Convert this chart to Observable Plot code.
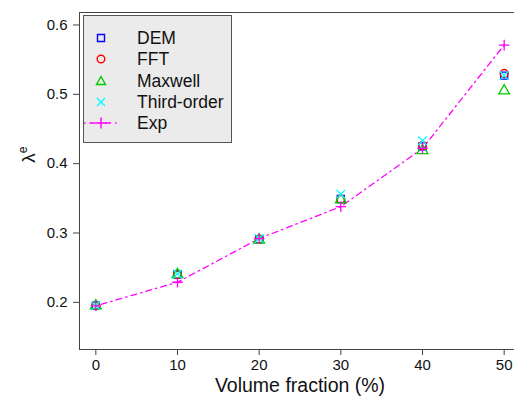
<!DOCTYPE html>
<html><head><meta charset="utf-8">
<script src="https://cdn.jsdelivr.net/npm/d3@7"></script>
<script src="https://cdn.jsdelivr.net/npm/@observablehq/plot@0.6"></script>
<style>
html,body{margin:0;padding:0;background:#fff;overflow:hidden}
#wrap{position:relative;width:514px;height:396px;overflow:hidden;font-family:"Liberation Sans",Arial,sans-serif}
#wrap svg.plot{max-width:none!important}
#legend{position:absolute;left:83px;top:15px;width:149px;height:128px;background:#ebebeb;border:1px solid #555;box-sizing:border-box}
#legend .row{position:absolute;left:0;height:20px;width:148px}
#legend .row svg{position:absolute;left:0;top:0}
#legend .row span{position:absolute;left:53px;top:1px;font-size:17.5px;color:#111;line-height:18px}
#ylab{position:absolute;left:20px;top:143px;font-size:19px;transform:rotate(-90deg);transform-origin:center;color:#111}
#ylab sup{font-size:12px}
</style></head>
<body><div id="wrap"></div>
<script>
const fractions = [0, 10, 20, 30, 40, 50];
const dem      = [0.195, 0.240, 0.291, 0.349, 0.425, 0.527];
const fft      = [0.195, 0.240, 0.291, 0.349, 0.426, 0.530];
const maxwell  = [0.195, 0.240, 0.290, 0.348, 0.419, 0.505];
const third    = [0.195, 0.241, 0.292, 0.356, 0.433, 0.527];
const expData  = [0.195, 0.229, 0.292, 0.338, 0.422, 0.571];
const yTicks = [0.2, 0.3, 0.4, 0.5, 0.6];
const xTicks = [0, 10, 20, 30, 40, 50];

const series = [
  {name: "DEM", values: dem, symbol: "square", color: "#0000ff"},
  {name: "FFT", values: fft, symbol: "circle", color: "#ff0000"},
  {name: "Maxwell", values: maxwell, symbol: "triangle", color: "#00cd00"},
  {name: "Third-order", values: third, symbol: "times", color: "#00ffff"},
  {name: "Exp", values: expData, symbol: "plus", color: "#ff00ff"}
];
const rows = series.flatMap(s => fractions.map((f, i) => ({series: s.name, x: f, y: s.values[i], symbol: s.symbol, color: s.color})));
const expRows = rows.filter(d => d.series === "Exp");

const chart = Plot.plot({
  width: 520, height: 396,
  marginLeft: 79, marginTop: 12, marginBottom: 47, marginRight: 0,
  style: {fontFamily: "Liberation Sans, Arial, sans-serif", fontSize: "15px", color: "#111", background: "white", maxWidth: "none"},
  x: {domain: [-2, 52]},
  y: {domain: [0.132, 0.618]},
  marks: [
    Plot.frame({stroke: "#444", strokeWidth: 1}),
    Plot.axisY({ticks: yTicks, tickFormat: d => d.toFixed(1), tickSize: 6, tickPadding: 6, label: null, fontSize: 15, stroke: "#444"}),
    Plot.axisX({ticks: xTicks, tickSize: 6, tickPadding: 4, label: "Volume fraction (%)", labelAnchor: "center", labelArrow: "none", labelOffset: 42, fontSize: 15, stroke: "#444"}),
    Plot.line(expRows, {x: "x", y: "y", stroke: "#ff00ff", strokeWidth: 1.3, strokeDasharray: "1.5,4,6,4"}),
    Plot.dot(rows.filter(d => d.series !== "Exp"), {x: "x", y: "y", symbol: "symbol", stroke: "color", r: 4, strokeWidth: 1.3, fill: "none"}),
    Plot.dot(expRows, {x: "x", y: "y", symbol: "symbol", stroke: "color", r: 3.5, strokeWidth: 1.3, fill: "none"})
  ],
  symbol: {type: "identity"},
  color: {type: "identity"}
});
const wrap = document.getElementById("wrap");
wrap.appendChild(chart);
chart.querySelectorAll("text").forEach(t => {
  if (t.textContent.includes("Volume fraction")) { t.setAttribute("font-size", "19.5"); }
});

const legend = document.createElement("div");
legend.id = "legend";
const symPath = {
  square: "M-3.5,-3.5h7v7h-7z",
  circle: "M0,-3.8A3.8,3.8 0 1,1 0,3.8A3.8,3.8 0 1,1 0,-3.8",
  triangle: "M0,-4.5L4.5,3.5L-4.5,3.5Z",
  times: "M-4,-4L4,4M-4,4L4,-4",
  plus: "M-5.5,0H5.5M0,-5.5V5.5"
};
series.forEach((s, i) => {
  const row = document.createElement("div");
  row.className = "row";
  row.style.top = (12 + i * 21.3) + "px";
  let line = s.name === "Exp" ? `<line x1="0" x2="35" y1="10" y2="10" stroke="${s.color}" stroke-width="1.3" stroke-dasharray="1.5,4,6,4"/>` : "";
  row.innerHTML = `<svg width="40" height="20">${line}<path transform="translate(17,10)" d="${symPath[s.symbol]}" fill="none" stroke="${s.color}" stroke-width="1.4"/></svg><span>${s.name}</span>`;
  legend.appendChild(row);
});
wrap.appendChild(legend);

const ylab = document.createElement("div");
ylab.id = "ylab";
ylab.innerHTML = "λ<sup>e</sup>";
wrap.appendChild(ylab);
</script></body></html>
